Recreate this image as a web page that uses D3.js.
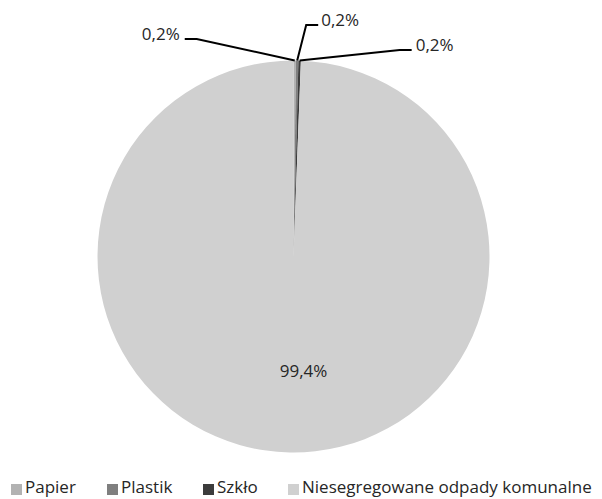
<!DOCTYPE html>
<html>
<head>
<meta charset="utf-8">
<script src="https://cdn.jsdelivr.net/npm/d3@7"></script>
<style>
body { margin: 0; background: #fff; }
text { font-family: "Open Sans", sans-serif; fill: #262626; }
</style>
</head>
<body>
<div id="chart"></div>
<script>
var categories = ["Papier", "Plastik", "Szkło", "Niesegregowane odpady komunalne"];
var values = [0.2, 0.2, 0.2, 99.4];
var labels = ["0,2%", "0,2%", "0,2%", "99,4%"];
var colors = ["#b2b2b2", "#7f7f7f", "#3c3c3c", "#d0d0d0"];

var width = 602, height = 499;
var cx = 293.5, cy = 256.5, radius = 196;

// leader line bends + label anchor for the small slices (Excel-style manual placement)
var labelLayout = [
    { bend: [-98, -21.5], end: [-110, -21.5], anchor: "end", gap: 5 },
    { bend: [9, -35.5], end: [21, -35.5], anchor: "start", gap: 3 },
    { bend: [100, -10.5], end: [112, -10.5], anchor: "start", gap: 4 },
    { offset: [10, 115] }
];

var svg = d3.select("#chart").append("svg")
    .attr("width", width)
    .attr("height", height);

var g = svg.append("g")
    .attr("transform", "translate(" + cx + "," + cy + ")");

var pie = d3.pie().sort(null).value(function (d) { return d; });
var arc = d3.arc().innerRadius(0).outerRadius(radius);
var arcs = pie(values);

g.selectAll("path.slice")
    .data(arcs)
    .enter().append("path")
    .attr("class", "slice")
    .attr("d", arc)
    .attr("fill", function (d, i) { return colors[i]; });

// labels
arcs.forEach(function (d, i) {
    var mid = (d.startAngle + d.endAngle) / 2;
    var edge = [Math.sin(mid) * radius, -Math.cos(mid) * radius];
    var lay = labelLayout[i];
    if (lay.bend) {
        var p1 = [edge[0] + lay.bend[0], edge[1] + lay.bend[1]];
        var p2 = [edge[0] + lay.end[0], edge[1] + lay.end[1]];
        g.append("polyline")
            .attr("points", [edge, p1, p2].map(function (p) { return p.join(","); }).join(" "))
            .attr("fill", "none")
            .attr("stroke", "#000")
            .attr("stroke-width", 2);
        g.append("text")
            .attr("x", p2[0] + (lay.anchor == "end" ? -lay.gap : lay.gap))
            .attr("y", p2[1] - 5)
            .attr("dy", "0.35em")
            .attr("text-anchor", lay.anchor)
            .style("font-size", "17px")
            .text(labels[i]);
    } else {
        g.append("text")
            .attr("x", lay.offset[0])
            .attr("y", lay.offset[1])
            .attr("dy", "0.35em")
            .attr("text-anchor", "middle")
            .style("font-size", "17px")
            .text(labels[i]);
    }
});

// legend
var legendX = [11, 107, 203, 288];
var legend = svg.append("g").attr("transform", "translate(0,487)");
var items = legend.selectAll("g.item")
    .data(categories)
    .enter().append("g")
    .attr("class", "item")
    .attr("transform", function (d, i) { return "translate(" + legendX[i] + ",0)"; });
items.append("rect")
    .attr("x", 0).attr("y", -3)
    .attr("width", 11).attr("height", 11)
    .attr("fill", function (d, i) { return colors[i]; });
items.append("text")
    .attr("x", 14)
    .attr("y", 0)
    .attr("dy", "0.35em")
    .style("font-size", "17px")
    .text(function (d) { return d; });
</script>
</body>
</html>
